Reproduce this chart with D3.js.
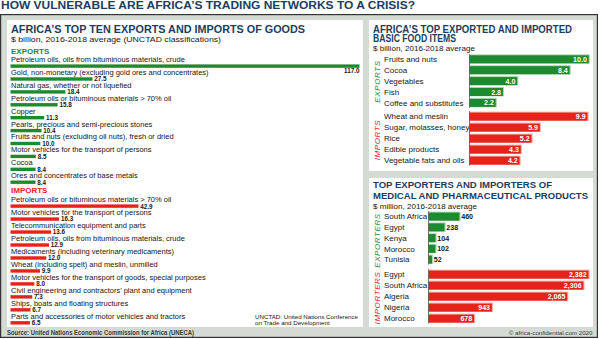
<!DOCTYPE html>
<html>
<head>
<meta charset="utf-8">
<script src="https://cdn.jsdelivr.net/npm/d3@7"></script>
<style>
  html, body { margin: 0; padding: 0; background: #fff; }
  svg { display: block; font-family: "Liberation Sans", Arial, Helvetica, sans-serif; }
</style>
</head>
<body>
<svg id="chart" width="600" height="339"></svg>
<script>
// ---- Top ten goods, $ billion, 2016-2018 average ----
const goodsExportNames = [
  "Petroleum oils, oils from bituminous materials, crude",
  "Gold, non-monetary (excluding gold ores and concentrates)",
  "Natural gas, whether or not liquefied",
  "Petroleum oils or bituminous materials > 70% oil",
  "Copper",
  "Pearls, precious and semi-precious stones",
  "Fruits and nuts (excluding oil nuts), fresh or dried",
  "Motor vehicles for the transport of persons",
  "Cocoa",
  "Ores and concentrates of base metals"
];
const goodsExportValues = [117.0, 27.5, 18.4, 15.8, 11.3, 10.4, 10.0, 8.5, 8.4, 8.4];

const goodsImportNames = [
  "Petroleum oils or bituminous materials > 70% oil",
  "Motor vehicles for the transport of persons",
  "Telecommunication equipment and parts",
  "Petroleum oils, oils from bituminous materials, crude",
  "Medicaments (including veterinary medicaments)",
  "Wheat (including spelt) and meslin, unmilled",
  "Motor vehicles for the transport of goods, special purposes",
  "Civil engineering and contractors’ plant and equipment",
  "Ships, boats and floating structures",
  "Parts and accessories of motor vehicles and tractors"
];
const goodsImportValues = [42.9, 16.3, 13.6, 12.9, 12.0, 9.9, 8.0, 7.3, 6.7, 6.5];

// ---- Basic food items, $ billion ----
const foodExportNames = ["Fruits and nuts", "Cocoa", "Vegetables", "Fish", "Coffee and substitutes"];
const foodExportValues = [10.0, 8.4, 4.0, 2.8, 2.2];
const foodImportNames = ["Wheat and meslin", "Sugar, molasses, honey", "Rice", "Edible products", "Vegetable fats and oils"];
const foodImportValues = [9.9, 5.9, 5.2, 4.3, 4.2];

// ---- Medical and pharmaceutical products, $ million ----
const pharmaExporterNames = ["South Africa", "Egypt", "Kenya", "Morocco", "Tunisia"];
const pharmaExporterValues = [460, 238, 104, 102, 52];
const pharmaImporterNames = ["Egypt", "South Africa", "Algeria", "Nigeria", "Morocco"];
const pharmaImporterValues = [2382, 2306, 2065, 943, 678];

// ---- Palette ----
const GREEN = "#1c8a2e", GREEN_PALE = "#a9d9ae";
const RED = "#e5231b", RED_PALE = "#f6b0aa";
const NAVY = "#1b3d62";
const INK = "#161616";
const FRAME = "#d4dbd3";

const svg = d3.select("#chart");

// Main headline
svg.append("text")
  .attr("x", 1).attr("y", 8.6)
  .attr("font-size", 10.2).attr("font-weight", "bold").attr("fill", NAVY)
  .attr("textLength", 414).attr("lengthAdjust", "spacingAndGlyphs")
  .text("HOW VULNERABLE ARE AFRICA’S TRADING NETWORKS TO A CRISIS?");

// Frame and white panels
svg.append("rect").attr("x", 0.6).attr("y", 14.6).attr("width", 596.8).attr("height", 322.8)
  .attr("fill", FRAME).attr("stroke", "#333").attr("stroke-width", 1.2);
const panels = [
  { x: 7, y: 20, w: 356, h: 307 },
  { x: 369, y: 20, w: 224, h: 151 },
  { x: 369, y: 178, w: 224, h: 149 }
];
svg.selectAll("rect.panel").data(panels).join("rect").attr("class", "panel")
  .attr("x", d => d.x).attr("y", d => d.y).attr("width", d => d.w).attr("height", d => d.h)
  .attr("fill", "#fff");

// Footer
svg.append("text").attr("x", 7).attr("y", 334.6)
  .attr("font-size", 6.4).attr("font-weight", "bold").attr("fill", "#3a3a3a")
  .attr("textLength", 187).attr("lengthAdjust", "spacingAndGlyphs")
  .text("Source: United Nations Economic Commission for Africa (UNECA)");
svg.append("text").attr("x", 592.5).attr("y", 334.6).attr("text-anchor", "end")
  .attr("font-size", 6.2).attr("fill", "#3a3a3a")
  .text("© africa-confidential.com 2020");

function title(lines, x, y0, lineH, widths, size) {
  lines.forEach((t, i) => {
    svg.append("text").attr("x", x).attr("y", y0 + i * lineH)
      .attr("font-size", size).attr("font-weight", "bold").attr("fill", NAVY)
      .attr("textLength", widths[i]).attr("lengthAdjust", "spacingAndGlyphs")
      .text(t);
  });
}
function subtitle(t, x, y, w) {
  svg.append("text").attr("x", x).attr("y", y)
    .attr("font-size", 8).attr("fill", INK)
    .attr("textLength", w).attr("lengthAdjust", "spacingAndGlyphs")
    .text(t);
}

// ================= Left panel: top ten goods =================
title(["AFRICA’S TOP TEN EXPORTS AND IMPORTS OF GOODS"], 11, 32.8, 0, [294], 10.4);
subtitle("$ billion, 2016-2018 average (UNCTAD classifications)", 11, 42.3, 210);

const xGoods = d3.scaleLinear().domain([0, 117]).range([10.5, 359.5]);

function goodsGroup(head, color, names, values, headY, y0, step) {
  svg.append("text").attr("x", 11).attr("y", headY)
    .attr("font-size", 8).attr("font-weight", "bold").attr("fill", color)
    .text(head);
  const y = d3.scalePoint().domain(d3.range(names.length)).range([y0, y0 + step * (names.length - 1)]);
  const rows = names.map((n, i) => ({ name: n, value: values[i], i }));
  const g = svg.append("g");
  g.selectAll("text.lab").data(rows).join("text").attr("class", "lab")
    .attr("x", 11).attr("y", d => y(d.i))
    .attr("font-size", 7.5).attr("fill", INK)
    .text(d => d.name);
  g.selectAll("rect.bar").data(rows).join("rect").attr("class", "bar")
    .attr("x", xGoods(0)).attr("y", d => y(d.i) + 2.4)
    .attr("width", d => xGoods(d.value) - xGoods(0)).attr("height", 3.4)
    .attr("fill", color);
  g.selectAll("text.val").data(rows).join("text").attr("class", "val")
    .attr("font-size", 6.3).attr("font-weight", "bold").attr("fill", INK)
    .each(function (d) {
      const end = xGoods(d.value);
      const sel = d3.select(this);
      if (end + 20 > xGoods.range()[1]) {
        // bar spans the panel: value sits beneath its end
        sel.attr("x", end).attr("y", y(d.i) + 11.3).attr("text-anchor", "end");
      } else {
        sel.attr("x", end + 1.8).attr("y", y(d.i) + 6.5);
      }
    })
    .text(d => d3.format(".1f")(d.value));
}
goodsGroup("EXPORTS", GREEN, goodsExportNames, goodsExportValues, 54, 62, 12.9);
goodsGroup("IMPORTS", RED, goodsImportNames, goodsImportValues, 193.3, 202, 12.97);

svg.append("text").attr("x", 255).attr("y", 318.8)
  .attr("font-size", 6.2).attr("fill", INK).text("UNCTAD: United Nations Conference");
svg.append("text").attr("x", 255).attr("y", 324.6)
  .attr("font-size", 6.2).attr("fill", INK).text("on Trade and Development");

// ================= Right panels: horizontal bar groups =================
function barGroup(opts) {
  const { names, values, color, pale, x, y0, step, side, sideY, valueInside, fmt } = opts;
  const y = d3.scalePoint().domain(d3.range(names.length)).range([y0, y0 + step * (names.length - 1)]);
  const rows = names.map((n, i) => ({ name: n, value: values[i], i }));
  const g = svg.append("g");
  const bh = 8;
  const top = d => y(d.i) - 6.7;

  g.selectAll("text.lab").data(rows).join("text").attr("class", "lab")
    .attr("x", 384).attr("y", d => y(d.i))
    .attr("font-size", 8).attr("fill", INK)
    .text(d => d.name);
  // pale rim behind each bar
  g.selectAll("rect.rim").data(rows).join("rect").attr("class", "rim")
    .attr("x", x(0)).attr("y", d => top(d) - 1)
    .attr("width", d => x(d.value) - x(0) + 1.2).attr("height", bh + 1.4)
    .attr("fill", pale);
  g.selectAll("rect.bar").data(rows).join("rect").attr("class", "bar")
    .attr("x", x(0)).attr("y", top)
    .attr("width", d => x(d.value) - x(0)).attr("height", bh)
    .attr("fill", color);
  g.append("line")
    .attr("x1", x(0)).attr("x2", x(0))
    .attr("y1", top(rows[0]) - 1.5).attr("y2", top(rows[rows.length - 1]) + bh + 1)
    .attr("stroke", "#555").attr("stroke-width", 0.8);
  g.selectAll("text.val").data(rows).join("text").attr("class", "val")
    .attr("font-size", 7.1).attr("font-weight", "bold")
    .attr("y", d => y(d.i) - 0.2)
    .attr("x", d => valueInside ? x(d.value) - 1.8 : x(d.value) + 1.8)
    .attr("text-anchor", valueInside ? "end" : "start")
    .attr("fill", valueInside ? "#fff" : INK)
    .text(d => fmt(d.value));
  svg.append("text")
    .attr("transform", `translate(380.2,${sideY}) rotate(-90)`)
    .attr("text-anchor", "middle")
    .attr("font-size", 8).attr("font-style", "italic").attr("fill", color)
    .attr("letter-spacing", 0.6)
    .text(side);
}

// Food items
title(["AFRICA’S TOP EXPORTED AND IMPORTED", "BASIC FOOD ITEMS"], 373, 33, 9, [199, 83], 10.2);
subtitle("$ billion, 2016-2018 average", 373, 51, 102);
const xFood = d3.scaleLinear().domain([0, 10]).range([469.5, 588.7]);
const oneDec = d3.format(".1f");
barGroup({ names: foodExportNames, values: foodExportValues, color: GREEN, pale: GREEN_PALE,
  x: xFood, y0: 62, step: 10.9, side: "EXPORTS", sideY: 81.5, valueInside: true, fmt: oneDec });
barGroup({ names: foodImportNames, values: foodImportValues, color: RED, pale: RED_PALE,
  x: xFood, y0: 119.3, step: 11, side: "IMPORTS", sideY: 140, valueInside: true, fmt: oneDec });

// Medical and pharmaceutical products
title(["TOP EXPORTERS AND IMPORTERS OF", "MEDICAL AND PHARMACEUTICAL PRODUCTS"], 373, 187.5, 11, [179, 215], 9.8);
subtitle("$ million, 2016-2018 average", 373, 208.5, 104);
const xPharma = d3.scaleLinear().domain([0, 2382]).range([428.5, 588.5]);
const thousands = d3.format(",");
barGroup({ names: pharmaExporterNames, values: pharmaExporterValues, color: GREEN, pale: GREEN_PALE,
  x: xPharma, y0: 219.3, step: 10.75, side: "EXPORTERS", sideY: 240.5, valueInside: false, fmt: thousands });
barGroup({ names: pharmaImporterNames, values: pharmaImporterValues, color: RED, pale: RED_PALE,
  x: xPharma, y0: 277.3, step: 11, side: "IMPORTERS", sideY: 298, valueInside: true, fmt: thousands });
</script>
</body>
</html>
